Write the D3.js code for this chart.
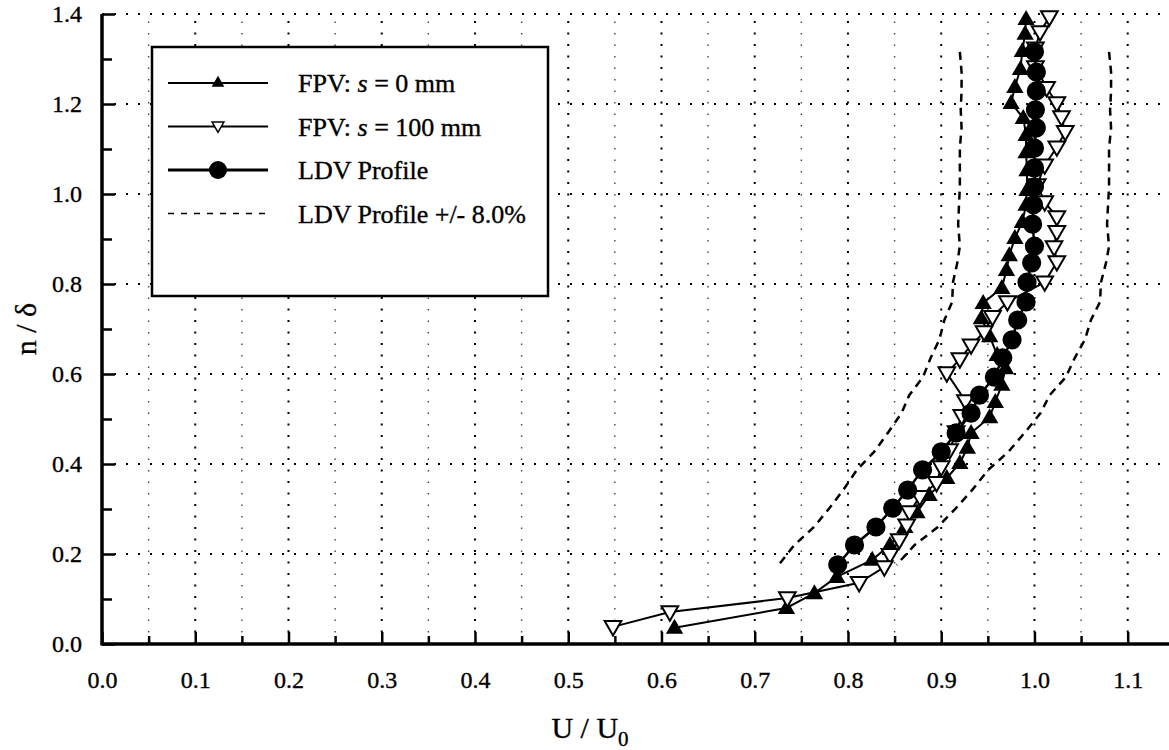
<!DOCTYPE html>
<html>
<head>
<meta charset="utf-8">
<script src="https://cdn.jsdelivr.net/npm/d3@7"></script>
<style>
  body { margin: 0; background: #fff; }
  svg { display: block; font-family: 'Liberation Serif', 'DejaVu Serif', serif; }
  svg text { stroke: #000; stroke-width: 0.35px; }
</style>
</head>
<body>
<div id="viz"></div>
<script>
// values: [U/U0, n/delta]
const ldvProfile = [
  [1.000, 1.316], [1.002, 1.271], [1.002, 1.229], [1.001, 1.187], [1.002, 1.147],
  [1.000, 1.102], [1.000, 1.058], [1.000, 1.016], [0.999, 0.976], [0.998, 0.933],
  [1.000, 0.884], [0.997, 0.847], [0.992, 0.804], [0.991, 0.760], [0.982, 0.720],
  [0.976, 0.676], [0.966, 0.636], [0.957, 0.593], [0.941, 0.553], [0.932, 0.513],
  [0.916, 0.469], [0.900, 0.427], [0.880, 0.387], [0.864, 0.342], [0.848, 0.302],
  [0.830, 0.260], [0.807, 0.220], [0.789, 0.176]
]

const fpv0 = [
  [0.991, 1.389], [0.990, 1.356], [0.987, 1.318], [0.985, 1.278], [0.979, 1.238],
  [0.975, 1.202], [0.988, 1.169], [0.991, 1.131], [0.991, 1.093], [0.992, 1.053],
  [0.992, 1.009], [0.991, 0.976], [0.987, 0.938], [0.979, 0.902], [0.973, 0.864],
  [0.970, 0.831], [0.965, 0.791], [0.945, 0.758], [0.943, 0.724], [0.952, 0.684],
  [0.960, 0.642], [0.969, 0.613], [0.965, 0.576], [0.958, 0.538], [0.952, 0.504],
  [0.932, 0.469], [0.928, 0.436], [0.920, 0.402], [0.906, 0.369], [0.887, 0.331],
  [0.874, 0.293], [0.861, 0.260], [0.845, 0.220], [0.826, 0.187], [0.788, 0.149],
  [0.764, 0.113], [0.734, 0.080], [0.614, 0.036]
]

const fpv100 = [
  [1.016, 1.393], [1.006, 1.360], [1.001, 1.324], [1.001, 1.282], [1.013, 1.236],
  [1.024, 1.202], [1.029, 1.171], [1.033, 1.138], [1.024, 1.104], [1.011, 1.064],
  [1.003, 1.020], [1.011, 0.982], [1.024, 0.949], [1.024, 0.916], [1.021, 0.882],
  [1.024, 0.849], [1.011, 0.804], [0.971, 0.760], [0.955, 0.727], [0.946, 0.693],
  [0.932, 0.664], [0.920, 0.633], [0.906, 0.602], [0.926, 0.540], [0.922, 0.507],
  [0.916, 0.471], [0.909, 0.431], [0.900, 0.393], [0.895, 0.358], [0.877, 0.327],
  [0.866, 0.293], [0.863, 0.264], [0.855, 0.231], [0.845, 0.198], [0.839, 0.171],
  [0.812, 0.136], [0.735, 0.102], [0.609, 0.071], [0.548, 0.038]
]

const band = 0.08
const xTicks = d3.range(0, 1.101, 0.1)
const xMinor = d3.range(0.05, 1.101, 0.1)
const yTicks = d3.range(0, 1.401, 0.2)
const yMinor = d3.range(0.1, 1.401, 0.2)
const legendLabels = ['FPV: s = 0 mm', 'FPV: s = 100 mm', 'LDV Profile', 'LDV Profile +/- 8.0%']

const width = 1169
const height = 750

let svg = d3.select('#viz')
  .append('svg')
    .attr('width', width)
    .attr('height', height)

let x = d3.scaleLinear().domain([0, 1.14]).range([102, 1165])
let y = d3.scaleLinear().domain([0, 1.4]).range([644, 14])

//
// grid
//

let grid = svg.append('g')

grid.selectAll('.vmin')
  .data(xMinor)
  .enter().append('line')
    .attr('x1', d => x(d)).attr('x2', d => x(d))
    .attr('y1', y(0)).attr('y2', y(1.4))
    .attr('stroke', '#444')
    .attr('stroke-width', 1.4)
    .attr('stroke-dasharray', '1.5,10')

grid.selectAll('.vmaj')
  .data(xTicks.slice(1))
  .enter().append('line')
    .attr('x1', d => x(d)).attr('x2', d => x(d))
    .attr('y1', y(0)).attr('y2', y(1.4))
    .attr('stroke', '#000')
    .attr('stroke-width', 2)
    .attr('stroke-dasharray', '2,9.5')

grid.selectAll('.hmaj')
  .data(yTicks.slice(1))
  .enter().append('line')
    .attr('x1', x(0)).attr('x2', width)
    .attr('y1', d => y(d)).attr('y2', d => y(d))
    .attr('stroke', '#000')
    .attr('stroke-width', 2)
    .attr('stroke-dasharray', '2,10')

//
// axes
//

let xAxis = svg.append('g')
  .attr('transform', 'translate(0,' + y(0) + ')')
  .call(d3.axisBottom(x).tickValues(xTicks).tickSize(-12).tickPadding(27).tickFormat(d3.format('.1f')))
let xAxisMinor = svg.append('g')
  .attr('transform', 'translate(0,' + y(0) + ')')
  .call(d3.axisBottom(x).tickValues(xMinor).tickSize(-8).tickFormat(''))

let yAxis = svg.append('g')
  .attr('transform', 'translate(' + x(0) + ',0)')
  .call(d3.axisLeft(y).tickValues(yTicks).tickSize(-13).tickPadding(20).tickFormat(d3.format('.1f')))
let yAxisMinor = svg.append('g')
  .attr('transform', 'translate(' + x(0) + ',0)')
  .call(d3.axisLeft(y).tickValues(yMinor).tickSize(-10).tickFormat(''))

svg.selectAll('.domain').remove()
svg.selectAll('.tick line').attr('stroke', '#000').attr('stroke-width', 2.5)
svg.selectAll('.tick text')
  .attr('fill', '#000')
  .style('font-family', "'Liberation Serif', serif")
  .style('font-size', '24px')

svg.append('line')
  .attr('x1', x(0)).attr('x2', width)
  .attr('y1', y(0)).attr('y2', y(0))
  .attr('stroke', '#000').attr('stroke-width', 3.5)
svg.append('line')
  .attr('x1', x(0)).attr('x2', x(0))
  .attr('y1', y(0) + 1.5).attr('y2', y(1.4))
  .attr('stroke', '#000').attr('stroke-width', 3.5)

svg.append('text')
  .attr('transform', 'translate(36,' + y(0.7) + ') rotate(-90)')
  .attr('text-anchor', 'middle')
  .style('font-size', '30px')
  .text('n / δ')

let xTitle = svg.append('text')
  .attr('x', 590).attr('y', 738)
  .attr('text-anchor', 'middle')
  .style('font-size', '30px')
xTitle.append('tspan').text('U / U')
xTitle.append('tspan').attr('dy', 8).style('font-size', '21px').text('0')

//
// data
//

let line = d3.line().x(d => x(d[0])).y(d => y(d[1]))

let plot = svg.append('g')

plot.append('path')
  .attr('d', line(ldvProfile.map(d => [d[0] * (1 - band), d[1]])))
  .attr('fill', 'none').attr('stroke', '#000')
  .attr('stroke-width', 2.5).attr('stroke-dasharray', '8,6')
plot.append('path')
  .attr('d', line(ldvProfile.map(d => [d[0] * (1 + band), d[1]])))
  .attr('fill', 'none').attr('stroke', '#000')
  .attr('stroke-width', 2.5).attr('stroke-dasharray', '8,6')

let triUp = d3.symbol().type(d3.symbolTriangle).size(130)
let triDown = d3.symbol().type(d3.symbolTriangle).size(120)
let dot = d3.symbol().type(d3.symbolCircle).size(290)

plot.append('path')
  .attr('d', line(fpv0))
  .attr('fill', 'none').attr('stroke', '#000').attr('stroke-width', 2)
plot.selectAll('.fpv0')
  .data(fpv0)
  .enter().append('path')
    .attr('d', triUp)
    .attr('transform', d => 'translate(' + x(d[0]) + ',' + (y(d[1]) + 1) + ')')
    .attr('fill', '#000')

plot.append('path')
  .attr('d', line(fpv100))
  .attr('fill', 'none').attr('stroke', '#000').attr('stroke-width', 2)
plot.selectAll('.fpv100')
  .data(fpv100)
  .enter().append('path')
    .attr('d', triDown)
    .attr('transform', d => 'translate(' + x(d[0]) + ',' + (y(d[1]) - 1) + ') rotate(180)')
    .attr('fill', '#fff').attr('stroke', '#000').attr('stroke-width', 2)

plot.append('path')
  .attr('d', line(ldvProfile))
  .attr('fill', 'none').attr('stroke', '#000').attr('stroke-width', 2.5)
plot.selectAll('.ldv')
  .data(ldvProfile)
  .enter().append('path')
    .attr('d', dot)
    .attr('transform', d => 'translate(' + x(d[0]) + ',' + y(d[1]) + ')')
    .attr('fill', '#000')

//
// legend
//

let legend = svg.append('g')

legend.append('rect')
  .attr('x', 152).attr('y', 47)
  .attr('width', 396).attr('height', 249)
  .attr('fill', '#fff').attr('stroke', '#000').attr('stroke-width', 2.5)

let rows = legend.selectAll('.row')
  .data(legendLabels)
  .enter().append('g')
    .attr('transform', (d, i) => 'translate(0,' + (83 + i * 43.5) + ')')

rows.append('line')
  .attr('x1', 168).attr('x2', 268)
  .attr('y1', 0).attr('y2', 0)
  .attr('stroke', '#000')
  .attr('stroke-width', (d, i) => i == 2 ? 2.8 : i == 3 ? 1.6 : 2)
  .attr('stroke-dasharray', (d, i) => i == 3 ? '6,7' : null)

rows.filter((d, i) => i == 0).append('path')
  .attr('d', d3.symbol().type(d3.symbolTriangle).size(70))
  .attr('transform', 'translate(218,0)')
  .attr('fill', '#000')
rows.filter((d, i) => i == 1).append('path')
  .attr('d', d3.symbol().type(d3.symbolTriangle).size(60))
  .attr('transform', 'translate(218,-1) rotate(180)')
  .attr('fill', '#fff').attr('stroke', '#000').attr('stroke-width', 1.5)
rows.filter((d, i) => i == 2).append('circle')
  .attr('cx', 218).attr('r', 9)
  .attr('fill', '#000')

let labels = rows.append('text')
  .attr('x', 298).attr('y', 0).attr('dy', '0.35em')
  .style('font-size', '26px')

labels.each(function(d) {
  let t = d3.select(this)
  let m = d.match(/^(FPV: )(s)( = .*)$/)
  if (m) {
    t.append('tspan').text(m[1])
    t.append('tspan').style('font-style', 'italic').text(m[2])
    t.append('tspan').text(m[3])
  } else {
    t.text(d)
  }
})
</script>
</body>
</html>
